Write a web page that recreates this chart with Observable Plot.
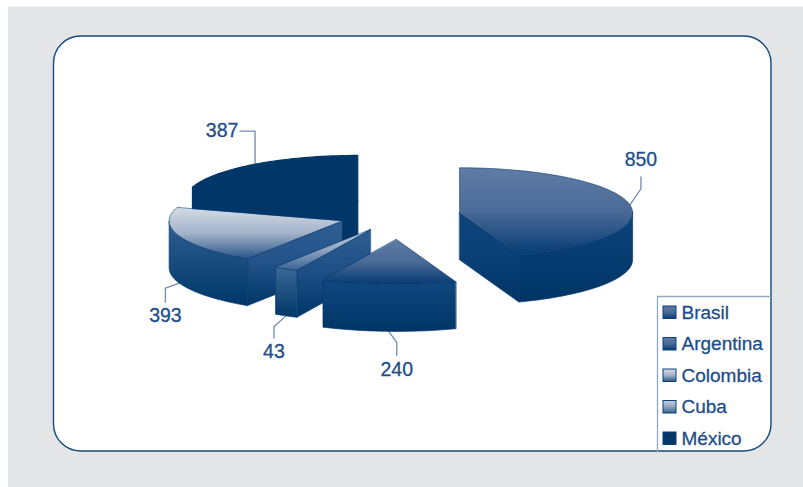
<!DOCTYPE html>
<html><head><meta charset="utf-8">
<style>html,body{margin:0;padding:0;background:#fff}svg{display:block}</style>
<script src="https://cdn.jsdelivr.net/npm/d3@7"></script>
<script src="https://cdn.jsdelivr.net/npm/@observablehq/plot@0.6"></script>
</head><body><div id="chart"></div>
<script>
const countries = ["Brasil","Argentina","Colombia","Cuba","México"];
const values = [850,240,393,43,387];
// clockwise order of the slices round the pie
const sliceOrder = ["Brasil","Argentina","Cuba","Colombia","México"];
const explode = [60,92,62,62,72]; // by sliceOrder
const drawOrder = ["México","Colombia","Cuba","Argentina","Brasil"];
const flatSlice = {"México":"#003768"};
const topStops = {
  Brasil:["#5f7ca5","#4a6a98","#063c73"],
  Argentina:["#5f7ca5","#4a6a98","#053b72"],
  Colombia:["#d4dbe6","#a3b3ca","#2b5688"],
  Cuba:["#c8d2e0","#8fa4c0","#3a6394"],
  "México":["#003768","#003768","#003768"]
};
const wallStops = {
  Brasil:["#0c447b","#003466"],
  Argentina:["#0f4880","#003466"],
  Colombia:["#2f5f92","#003668"],
  Cuba:["#3a6896","#003668"],
  "México":["#003768","#003768"]
};
const sideStops = {
  Brasil:["#0c447b","#0a4076","#003466"],
  Argentina:["#0f4880","#003466"],
  Colombia:["#2f5f92","#225288","#003668"],
  Cuba:["#2f5f92","#1c4d84","#003668"],
  "México":["#003768","#003768"]
};
const edgeColor = {Brasil:"#063a6e",Argentina:"#063a6e",Colombia:"#063a6e",Cuba:"#0a4176","México":"#003768"};
const legendRows = [312,343.5,375,406.5,438];
const labelDx = {Brasil:11,Argentina:8,Colombia:-14,Cuba:-12,"México":-33};
const labelDy = {Brasil:-45,Argentina:38,Colombia:33,Cuba:36,"México":-33};
const elbowShare = {Brasil:.36,Argentina:.29,Colombia:.15,Cuba:.3};

const W=803,H=487,cx=400,cy=215,rx=173,ry=45,depth=47,k=ry/rx;
const total=d3.sum(values);
const byName=Object.fromEntries(countries.map((c,i)=>[c,values[i]]));
let acc=0;
const slices=sliceOrder.map((name,i)=>{
  const a0=acc/total*2*Math.PI; acc+=byName[name];
  const a1=acc/total*2*Math.PI, mid=(a0+a1)/2;
  return {name,value:byName[name],a0,a1,mid,
    ox:cx+explode[i]*Math.sin(mid), oy:cy-explode[i]*k*Math.cos(mid)};
});
const pt=(s,a,d=0)=>({x:s.ox+rx*Math.sin(a),y:s.oy-ry*Math.cos(a)+d});
const arc=(s,from,to,d=0)=>{const n=Math.max(2,Math.ceil((to-from)/0.03));
  return d3.range(n+1).map(i=>pt(s,from+(to-from)*i/n,d));};
const apex=(s,d=0)=>({x:s.ox,y:s.oy+d});

const polygon=(pts,fill,stroke,sw=0.7)=>Plot.line(pts,{x:"x",y:"y",curve:"linear-closed",fill,stroke,strokeWidth:sw,strokeLinejoin:"round"});
const slug=s=>s.normalize("NFD").replace(/[^a-zA-Z]/g,"");

const sliceMarks=drawOrder.flatMap(n=>{
  const s=slices.find(d=>d.name===n), id=slug(n), m=[], e=edgeColor[n], flat=flatSlice[n];
  // only the radial faces that turn towards the viewer
  const faces=[];
  if(Math.sin(s.a0)<-1e-6) faces.push(s.a0);
  if(Math.sin(s.a1)>1e-6) faces.push(s.a1);
  for(const a of faces){
    m.push(polygon([apex(s),pt(s,a),pt(s,a,depth),apex(s,depth)],flat||`url(#side${id})`,e,flat?1.2:0.7));
  }
  const front0=Math.max(s.a0,Math.PI/2), front1=Math.min(s.a1,Math.PI*1.5);
  if(front1>front0){
    m.push(polygon([...arc(s,front0,front1),...arc(s,front0,front1,depth).reverse()],flat||`url(#wall${id})`,e));
  }
  m.push(polygon([apex(s),...arc(s,s.a0,s.a1)],flat||`url(#top${id})`,e,flat?1.2:0.6));
  return m;
});

const defs=()=>{
  const ns="http://www.w3.org/2000/svg";
  const d=document.createElementNS(ns,"defs");
  const add=(id,stops)=>{
    const g=document.createElementNS(ns,"linearGradient");
    g.setAttribute("id",id);g.setAttribute("x1",0);g.setAttribute("x2",0);g.setAttribute("y1",0);g.setAttribute("y2",1);
    stops.forEach((c,i)=>{const st=document.createElementNS(ns,"stop");
      st.setAttribute("offset",i/(stops.length-1));st.setAttribute("stop-color",c);g.appendChild(st);});
    d.appendChild(g);
  };
  countries.forEach(c=>{const i=slug(c);add("top"+i,topStops[c]);add("wall"+i,wallStops[c]);add("side"+i,sideStops[c]);});
  return d;
};

const ink="#214e8a", font="Liberation Sans, Arial, sans-serif";
const anchors=slices.map(s=>{
  const below=s.mid>Math.PI/2&&s.mid<Math.PI*1.5;
  return pt(s,s.mid,below?depth:0);
});
const labelData=slices.map((s,i)=>({x:anchors[i].x+labelDx[s.name],y:anchors[i].y+labelDy[s.name],t:String(s.value)}));
const leaderMarks=slices.map((s,i)=>{
  const a=anchors[i], l=labelData[i], dy=labelDy[s.name];
  const path=s.name==="México"
    ?[{x:l.x+18,y:l.y},{x:a.x,y:l.y},a]
    :[{x:l.x,y:l.y+(dy<0?17:-14)},{x:l.x,y:a.y+dy*elbowShare[s.name]},a];
  return Plot.line(path,{x:"x",y:"y",stroke:"#6f8bb0",strokeWidth:1.3});
});

const plot=Plot.plot({
  width:W,height:H,margin:0,
  x:{domain:[0,W],range:[0,W],axis:null},
  y:{domain:[0,H],range:[0,H],axis:null},
  style:{background:"#fff",fontFamily:font},
  marks:[
    defs,
    Plot.rect([0],{x1:8,x2:W,y1:6.5,y2:H,fill:"#e4e5e7"}),
    Plot.rect([0],{x1:53.5,x2:771,y1:36,y2:451,fill:"#fff",stroke:"#144a7e",strokeWidth:1.4,rx:27}),
    ...leaderMarks,
    ...sliceMarks,
    Plot.text(labelData,{x:"x",y:"y",text:"t",fill:ink,stroke:ink,strokeWidth:0.3,fontSize:19.5}),
    Plot.line([{x:657,y:451},{x:657,y:296},{x:770,y:296}],{x:"x",y:"y",stroke:"#93a8c6",strokeWidth:1.3}),
    ...countries.map((c,i)=>Plot.rect([0],{x1:663,x2:676,y1:legendRows[i]-6,y2:legendRows[i]+6.5,fill:`url(#top${slug(c)})`,stroke:"#0a4176",strokeWidth:1})),
    Plot.text(countries,{x:681,y:(d,i)=>legendRows[i],text:d=>d,textAnchor:"start",fill:ink,stroke:ink,strokeWidth:0.3,fontSize:19})
  ]
});
document.getElementById("chart").appendChild(plot);
</script></body></html>
